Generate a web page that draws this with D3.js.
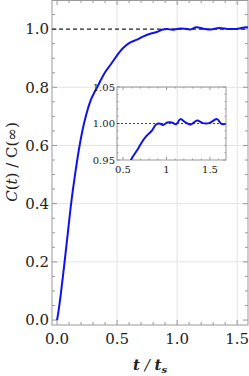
<!DOCTYPE html>
<html>
<head>
<meta charset="utf-8">
<script src="https://cdn.jsdelivr.net/npm/d3@7"></script>
<style>
  html, body { margin: 0; padding: 0; background: #fff; }
</style>
</head>
<body>
<svg id="chart" width="249" height="376"></svg>
<script>
// Normalized autocorrelation C(t)/C(inf)
const times = [0, 0.012, 0.03, 0.06, 0.09, 0.12, 0.15, 0.19, 0.23, 0.28, 0.34, 0.40, 0.45,
  0.50, 0.55, 0.60, 0.66, 0.72, 0.77, 0.83, 0.88, 0.92, 0.96, 1.01, 1.06, 1.11, 1.16,
  1.22, 1.28, 1.35, 1.42, 1.49, 1.58, 1.63, 1.68]
const ratios = [0, 0.03, 0.085, 0.19, 0.30, 0.41, 0.50, 0.605, 0.685, 0.755, 0.805, 0.852, 0.88,
  0.91, 0.935, 0.952, 0.963, 0.975, 0.983, 0.990, 0.9986, 1.000, 0.998, 1.0014, 1.0014, 0.999, 1.006,
  1.0014, 0.9986, 1.004, 1.0005, 1.0005, 1.006, 0.9995, 0.9995]

const xTicks = [0, 0.5, 1.0, 1.5]
const yTicks = [0, 0.2, 0.4, 0.6, 0.8, 1.0]
const insetXTicks = [0.5, 1, 1.5]
const insetYTicks = [0.95, 1.0, 1.05]

const data = times.map((t, i) => ({ t, v: ratios[i] }))

// Liberation Serif does not resolve here, DejaVu Serif does
const SERIF = "'DejaVu Serif', serif"
const svg = d3.select("#chart")
const FRAME = "#9a9a9a"
const GRID = "#e4e4e4"
const LINE = "#1010f0"

// Main panel
const M = { left: 52, top: 0, right: 248, bottom: 325 }
const x = d3.scaleLinear().domain([-0.042, 1.59]).range([M.left, M.right])
const y = d3.scaleLinear().domain([-0.017, 1.1]).range([M.bottom, M.top])

svg.append("defs").append("clipPath").attr("id", "clipMain")
  .append("rect").attr("x", M.left).attr("y", M.top)
  .attr("width", M.right - M.left).attr("height", M.bottom - M.top)

const grid = svg.append("g")
grid.selectAll(".gx").data([0.5, 1.0, 1.5]).join("line")
  .attr("x1", d => x(d)).attr("x2", d => x(d))
  .attr("y1", M.top).attr("y2", M.bottom)
  .attr("stroke", GRID).attr("stroke-width", 1)
grid.selectAll(".gy").data([0.2, 0.4, 0.6, 0.8]).join("line")
  .attr("y1", d => y(d)).attr("y2", d => y(d))
  .attr("x1", M.left).attr("x2", M.right)
  .attr("stroke", GRID).attr("stroke-width", 1)

// inward ticks on all four sides
function frameTicks(g, sx, sy, box, xMaj, xMin, yMaj, yMin, big, small) {
  const t = g.append("g").attr("stroke", FRAME).attr("stroke-width", 1)
  const put = (vals, len, horiz) => {
    vals.forEach(v => {
      if (horiz) {
        const px = sx(v)
        t.append("line").attr("x1", px).attr("x2", px).attr("y1", box.bottom).attr("y2", box.bottom - len)
        t.append("line").attr("x1", px).attr("x2", px).attr("y1", box.top).attr("y2", box.top + len)
      } else {
        const py = sy(v)
        t.append("line").attr("y1", py).attr("y2", py).attr("x1", box.left).attr("x2", box.left + len)
        t.append("line").attr("y1", py).attr("y2", py).attr("x1", box.right).attr("x2", box.right - len)
      }
    })
  }
  put(xMaj, big, true); put(xMin, small, true)
  put(yMaj, big, false); put(yMin, small, false)
}

const xMinor = d3.range(0, 1.6, 0.1).map(d => +d.toFixed(2)).filter(d => !xTicks.includes(d))
const yMinor = d3.range(0, 1.1, 0.05).map(d => +d.toFixed(2)).filter(d => !yTicks.includes(d))
frameTicks(svg, x, y, M, xTicks, xMinor, yTicks, yMinor, 5, 3)

svg.append("rect")
  .attr("x", M.left).attr("y", M.top + 0.5)
  .attr("width", M.right - M.left).attr("height", M.bottom - M.top - 0.5)
  .attr("fill", "none").attr("stroke", FRAME).attr("stroke-width", 1)

// reference level at 1
svg.append("line")
  .attr("x1", M.left).attr("x2", M.right).attr("y1", y(1)).attr("y2", y(1))
  .attr("stroke", "#222").attr("stroke-width", 1.3).attr("stroke-dasharray", "4,3")

const line = d3.line().x(d => x(d.t)).y(d => y(d.v)).curve(d3.curveCatmullRom)
svg.append("path").attr("d", line(data)).attr("clip-path", "url(#clipMain)")
  .attr("fill", "none").attr("stroke", LINE).attr("stroke-width", 2)

svg.append("g").selectAll("text").data(yTicks).join("text")
  .attr("x", M.left - 3).attr("y", d => y(d)).attr("dy", "0.35em")
  .attr("text-anchor", "end").style("font-family", SERIF).attr("font-size", 15).attr("fill", "#222")
  .text(d3.format(".1f"))
svg.append("g").selectAll("text").data(xTicks).join("text")
  .attr("x", d => x(d)).attr("y", 344)
  .attr("text-anchor", "middle").style("font-family", SERIF).attr("font-size", 15).attr("fill", "#222")
  .text(d3.format(".1f"))

const yl = svg.append("text").attr("transform", "translate(17,162) rotate(-90)")
  .attr("text-anchor", "middle").style("font-family", SERIF).attr("font-size", 15).attr("fill", "#222")
yl.append("tspan").attr("font-style", "italic").text("C")
yl.append("tspan").text("(")
yl.append("tspan").attr("font-style", "italic").text("t")
yl.append("tspan").text(") / C(∞)")

const xl = svg.append("text").attr("x", 150).attr("y", 370)
  .attr("text-anchor", "middle").style("font-family", SERIF).attr("font-size", 15).attr("fill", "#222")
  .attr("font-style", "italic").attr("font-weight", "bold")
xl.append("tspan").text("t")
xl.append("tspan").attr("font-weight", "normal").text(" / ")
xl.append("tspan").text("t")
xl.append("tspan").attr("font-size", 10).attr("dy", 3).text("s")

// Inset panel
const I = { left: 117, top: 87, right: 226, bottom: 160 }
const ix = d3.scaleLinear().domain([0.431, 1.684]).range([I.left, I.right])
const iy = d3.scaleLinear().domain([0.95, 1.05]).range([I.bottom, I.top])

svg.select("defs").append("clipPath").attr("id", "clipInset")
  .append("rect").attr("x", I.left).attr("y", I.top)
  .attr("width", I.right - I.left).attr("height", I.bottom - I.top)

const ins = svg.append("g")
frameTicks(ins, ix, iy, I, insetXTicks, [0.6, 0.7, 0.8, 0.9, 1.1, 1.2, 1.3, 1.4, 1.6],
  insetYTicks, [0.96, 0.97, 0.98, 0.99, 1.01, 1.02, 1.03, 1.04], 3, 1.5)
ins.append("rect")
  .attr("x", I.left).attr("y", I.top).attr("width", I.right - I.left).attr("height", I.bottom - I.top)
  .attr("fill", "none").attr("stroke", FRAME).attr("stroke-width", 1)
ins.append("line")
  .attr("x1", I.left).attr("x2", I.right).attr("y1", iy(1)).attr("y2", iy(1))
  .attr("stroke", "#333").attr("stroke-width", 0.9).attr("stroke-dasharray", "2,2")

const iline = d3.line().x(d => ix(d.t)).y(d => iy(d.v)).curve(d3.curveCatmullRom)
ins.append("path").attr("d", iline(data)).attr("clip-path", "url(#clipInset)")
  .attr("fill", "none").attr("stroke", LINE).attr("stroke-width", 2)

ins.append("g").selectAll("text").data(insetYTicks).join("text")
  .attr("x", I.left - 2).attr("y", d => iy(d)).attr("dy", "0.35em")
  .attr("text-anchor", "end").style("font-family", SERIF).attr("font-size", 10).attr("fill", "#222")
  .text(d3.format(".2f"))
ins.append("g").selectAll("text").data(insetXTicks).join("text")
  .attr("x", d => ix(d)).attr("y", 173)
  .attr("text-anchor", "middle").style("font-family", SERIF).attr("font-size", 10).attr("fill", "#222")
  .text(d => String(d))
</script>
</body>
</html>
